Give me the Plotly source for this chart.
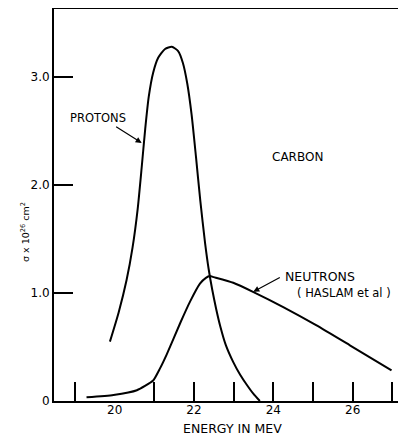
import plotly.graph_objects as go

# Data
proton_x = [19.88, 20.10, 20.30, 20.45, 20.58, 20.68, 20.77, 20.86, 20.97, 21.10, 21.27, 21.44,
            21.60, 21.72, 21.83, 21.94, 22.05, 22.16, 22.28, 22.37, 22.46, 22.56, 22.66,
            22.80, 22.99, 23.16, 23.33, 23.50, 23.66]
proton_y = [0.55, 0.82, 1.12, 1.42, 1.78, 2.16, 2.52, 2.82, 3.04, 3.18, 3.26, 3.28,
            3.24, 3.13, 2.94, 2.65, 2.26, 1.85, 1.46, 1.22, 1.03, 0.85, 0.695,
            0.52, 0.36, 0.245, 0.15, 0.065, 0.0]

neutron_x = [19.29, 19.97, 20.56, 20.97, 21.14, 21.31, 21.65, 21.90, 22.15, 22.30, 22.40,
             22.50, 22.99, 23.50, 24.25, 25.09, 25.93, 26.98]
neutron_y = [0.034, 0.056, 0.10, 0.19, 0.30, 0.43, 0.72, 0.92, 1.086, 1.14, 1.157,
             1.147, 1.095, 1.009, 0.87, 0.70, 0.516, 0.284]

x_tick_marks = [19, 21, 22, 23, 24, 25, 26, 27]
x_tick_labels = [20, 22, 24, 26]
y_tick_vals = [0, 1, 2, 3]
y_tick_text = ["0", "1.0", "2.0", "3.0"]

FONT = "DejaVu Sans"
fig = go.Figure()
fig.add_trace(go.Scatter(x=proton_x, y=proton_y, mode="lines",
                         line=dict(color="black", width=2, shape="spline", smoothing=0.6),
                         showlegend=False, hoverinfo="skip"))
fig.add_trace(go.Scatter(x=neutron_x, y=neutron_y, mode="lines",
                         line=dict(color="black", width=2, shape="spline", smoothing=0.5),
                         showlegend=False, hoverinfo="skip"))
# invisible trace for the label axis
fig.add_trace(go.Scatter(x=[20], y=[0], xaxis="x2", mode="markers",
                         marker=dict(opacity=0), showlegend=False, hoverinfo="skip"))

# the page body adds an 8px margin, so the figure is 8px smaller than the window
fig.update_layout(
    width=398, height=428,
    margin=dict(l=46, r=0, t=1, b=35),
    paper_bgcolor="white", plot_bgcolor="white",
    font=dict(family=FONT, color="black", size=12),
    xaxis=dict(range=[18.47, 27.345], showgrid=False, zeroline=False, automargin=False,
               showline=True, linecolor="black", linewidth=2, mirror=True,
               ticks="inside", ticklen=19, tickwidth=1.5, tickcolor="black",
               tickvals=x_tick_marks, showticklabels=False),
    xaxis2=dict(overlaying="x", matches="x", side="bottom", showgrid=False, automargin=False,
                zeroline=False, showline=False, ticks="",
                tickvals=x_tick_labels, ticktext=[str(v) for v in x_tick_labels],
                tickfont=dict(size=12)),
    yaxis=dict(range=[0, 3.63], showgrid=False, zeroline=False, automargin=False,
               showline=True, linecolor="black", linewidth=2,
               ticks="inside", ticklen=19, tickwidth=1.5, tickcolor="black",
               tickvals=y_tick_vals, ticktext=y_tick_text, tickfont=dict(size=12)),
)

ann = []
ann.append(dict(x=19.58, y=2.62, xref="x", yref="y", text="PROTONS", showarrow=False,
                xanchor="center", yanchor="middle", font=dict(size=11.5)))
ann.append(dict(x=20.68, y=2.39, xref="x", yref="y", text="", showarrow=True,
                ax=-27, ay=-17, arrowhead=2, arrowsize=1, arrowwidth=1.2, arrowcolor="black",
                standoff=0))
ann.append(dict(x=24.62, y=2.26, xref="x", yref="y", text="CARBON", showarrow=False,
                xanchor="center", yanchor="middle", font=dict(size=12)))
ann.append(dict(x=24.25, y=1.157, xref="x", yref="y", text="NEUTRONS", showarrow=False,
                xanchor="left", yanchor="middle", font=dict(size=12.5)))
ann.append(dict(x=24.55, y=1.0, xref="x", yref="y", text="( HASLAM et al )", showarrow=False,
                xanchor="left", yanchor="middle", font=dict(size=11.5)))
ann.append(dict(x=23.495, y=1.012, xref="x", yref="y", text="", showarrow=True,
                ax=28, ay=-15, arrowhead=2, arrowsize=1, arrowwidth=1.2, arrowcolor="black",
                standoff=0))
ann.append(dict(x=-0.0824, y=0.431, xref="paper", yref="paper",
                text="σ x 10<sup>26</sup> cm<sup>2</sup>", textangle=-90, showarrow=False,
                xanchor="center", yanchor="middle", font=dict(size=9.5)))
ann.append(dict(x=0.5085, y=-0.069, xref="paper", yref="paper", text="ENERGY IN MEV",
                showarrow=False, xanchor="center", yanchor="middle", borderpad=0,
                font=dict(size=12.5)))
fig.update_layout(annotations=ann)

fig.write_html("out.html")
